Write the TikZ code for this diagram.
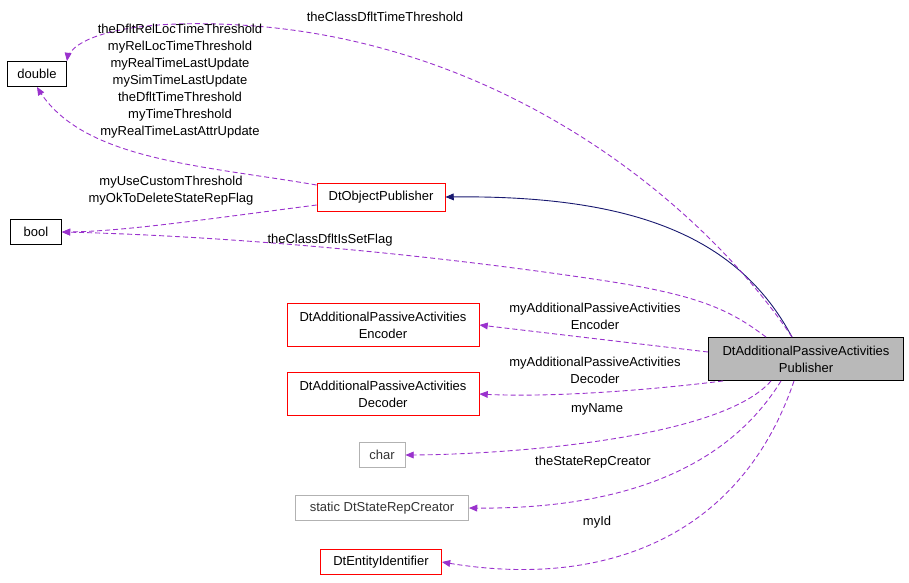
\documentclass[tikz,border=0pt]{standalone}
\usepackage{fontspec}
\setmainfont{Liberation Sans}
\usetikzlibrary{arrows}

\begin{document}
\begin{tikzpicture}[x=1pt,y=-1pt,>=triangle 45,font=\fontsize{13}{17}\selectfont,
  line width=0.9pt]
  \definecolor{edgepurple}{HTML}{9A32CD}
  \definecolor{edgenavy}{HTML}{191970}
  \tikzstyle{cls}=[draw=red,rectangle,align=center,inner sep=3pt]
  \tikzstyle{plain}=[draw=black,rectangle,align=center,inner sep=3pt]
  \tikzstyle{ext}=[draw=gray!60,rectangle,align=center,inner sep=3pt,text=black!80]
  \tikzstyle{use}=[->,dashed,edgepurple,dash pattern=on 5pt off 3pt]
  \tikzstyle{lbl}=[align=center,inner sep=0pt]

  \useasboundingbox (0,0) rectangle (909,582);

  \node[plain,minimum width=59,minimum height=25] (double) at (37,74) {double};
  \node[plain,minimum width=51,minimum height=25] (bool) at (36,232) {bool};
  \node[cls,minimum width=128,minimum height=28] (objpub) at (381,197) {DtObjectPublisher};
  \node[cls,minimum width=192,minimum height=43] (enc) at (383,325) {DtAdditionalPassiveActivities\\Encoder};
  \node[cls,minimum width=192,minimum height=43] (dec) at (383,394) {DtAdditionalPassiveActivities\\Decoder};
  \node[ext,minimum width=46,minimum height=25] (char) at (382,455) {char};
  \node[ext,minimum width=173,minimum height=25] (creator) at (382,508) {static DtStateRepCreator};
  \node[cls,minimum width=121,minimum height=25] (entid) at (381,562) {DtEntityIdentifier};
  \node[plain,fill=gray!55,minimum width=195,minimum height=43] (pub) at (806,359) {DtAdditionalPassiveActivities\\Publisher};

  % inheritance
  \draw[->,edgenavy] (pub.north) ++(-14,0) coordinate (p0)
    (p0) .. controls (740,240) and (640,194) .. (objpub.east);

  % members
  \draw[use] (objpub.west) ++(0,-12) coordinate (o1)
    (o1) .. controls (200,165) and (80,160) .. (double.south);
  \draw[use] (objpub.west) ++(0,8) coordinate (o2)
    (o2) .. controls (200,220) and (120,232) .. (bool.east);
  \draw[use] (p0) .. controls (700,200) and (500,40) .. (240,25)
    .. controls (120,18) and (70,40) .. (double.north east);
  \draw[use] (pub.north) ++(-40,0) coordinate (p1)
    (p1) .. controls (730,310) and (700,295) .. (600,280)
    .. controls (400,250) and (200,235) .. (bool.east);
  \draw[use] (pub.west) ++(0,-7) coordinate (p2)
    (p2) -- (enc.east);
  \draw[use] (pub.south west) ++(15,0) coordinate (p3)
    (p3) .. controls (650,390) and (550,398) .. (dec.east);
  \draw[use] (pub.south) ++(-35,0) coordinate (p4)
    (p4) .. controls (720,440) and (500,455) .. (char.east);
  \draw[use] (pub.south) ++(-25,0) coordinate (p5)
    (p5) .. controls (720,480) and (600,510) .. (creator.east);
  \draw[use] (pub.south) ++(-12,0) coordinate (p6)
    (p6) .. controls (740,540) and (600,590) .. (entid.east);

  \node[lbl] (ldouble) at (180,81) {theDfltRelLocTimeThreshold\\myRelLocTimeThreshold\\myRealTimeLastUpdate\\mySimTimeLastUpdate\\theDfltTimeThreshold\\myTimeThreshold\\myRealTimeLastAttrUpdate};
  \node[lbl] (lbool) at (171,191) {myUseCustomThreshold\\myOkToDeleteStateRepFlag};
  \node[lbl] (lclass) at (385,17) {theClassDfltTimeThreshold};
  \node[lbl] (lflag) at (330,240) {theClassDfltIsSetFlag};
  \node[lbl] (lenc) at (595,316) {myAdditionalPassiveActivities\\Encoder};
  \node[lbl] (ldec) at (595,370) {myAdditionalPassiveActivities\\Decoder};
  \node[lbl] (lname) at (597,409) {myName};
  \node[lbl] (lcreator) at (593,462) {theStateRepCreator};
  \node[lbl] (lid) at (597,522) {myId};
\end{tikzpicture}
\end{document}
